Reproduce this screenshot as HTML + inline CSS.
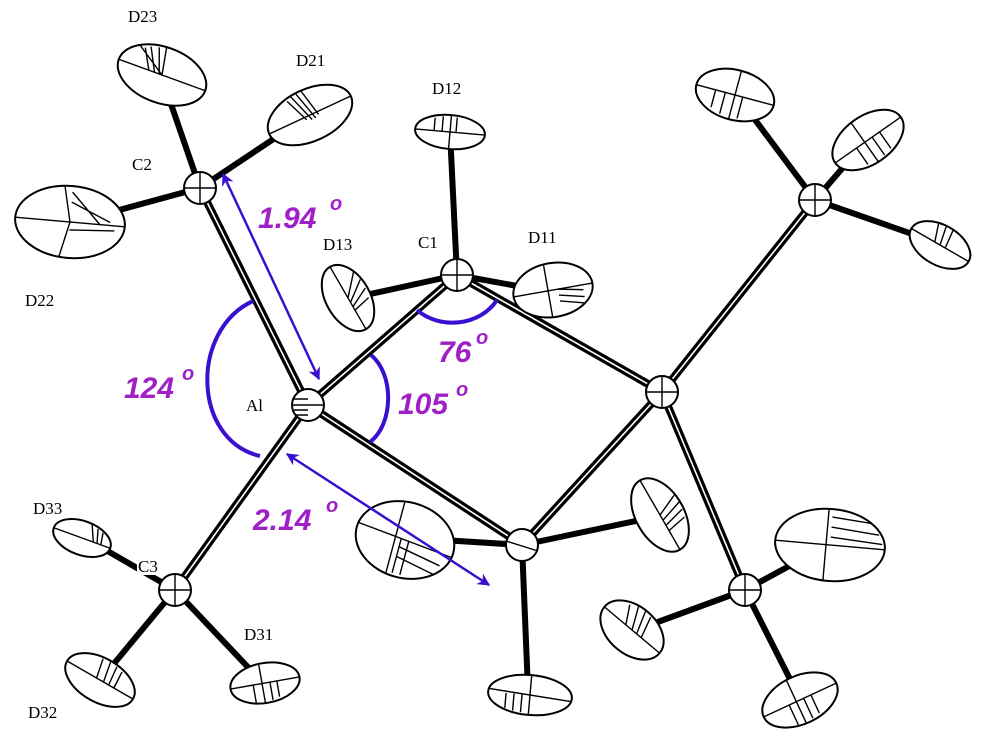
<!DOCTYPE html>
<html><head><style>
body{margin:0;background:#fff}
svg{display:block}
.b{stroke:#000;stroke-width:8;stroke-linecap:butt}
.bi{stroke:#fff;stroke-width:1.6}
.e{fill:#fff;stroke:#000;stroke-width:2}
.h{stroke:#000;stroke-width:1.4;fill:none}
.lab{font-family:"Liberation Serif",serif;font-size:17px;fill:#000}
.p{font-family:"Liberation Sans",sans-serif;font-weight:bold;font-style:italic;font-size:30px;fill:#a020c8}
.bl{stroke:#3a10d0;fill:none}
</style></head><body>
<svg width="997" height="748" viewBox="0 0 997 748">
<defs>
<marker id="ah" viewBox="0 0 10 10" refX="9" refY="5" markerWidth="5" markerHeight="5" orient="auto-start-reverse"><path d="M0,0 L10,5 L0,10 L3,5z" fill="#3a10d0"/></marker>
</defs>

<g>
<line class="b" x1="308" y1="405" x2="200" y2="188"/>
<line class="b" x1="308" y1="405" x2="457" y2="275"/>
<line class="b" x1="308" y1="405" x2="175" y2="590"/>
<line class="b" x1="308" y1="405" x2="522" y2="545"/>
<line class="b" x1="457" y1="275" x2="662" y2="392"/>
<line class="b" x1="522" y1="545" x2="662" y2="392"/>
<line class="b" x1="662" y1="392" x2="815" y2="200"/>
<line class="b" x1="662" y1="392" x2="745" y2="590"/>
<line class="b" x1="200" y1="188" x2="162" y2="78" style="stroke-width:6"/>
<line class="b" x1="200" y1="188" x2="305" y2="118" style="stroke-width:6"/>
<line class="b" x1="200" y1="188" x2="75" y2="222" style="stroke-width:6"/>
<line class="b" x1="457" y1="275" x2="450" y2="132" style="stroke-width:6"/>
<line class="b" x1="457" y1="275" x2="352" y2="298" style="stroke-width:6"/>
<line class="b" x1="457" y1="275" x2="550" y2="292" style="stroke-width:6"/>
<line class="b" x1="175" y1="590" x2="85" y2="538" style="stroke-width:6"/>
<line class="b" x1="175" y1="590" x2="102" y2="678" style="stroke-width:6"/>
<line class="b" x1="175" y1="590" x2="262" y2="682" style="stroke-width:6"/>
<line class="b" x1="522" y1="545" x2="410" y2="538" style="stroke-width:6"/>
<line class="b" x1="522" y1="545" x2="650" y2="518" style="stroke-width:6"/>
<line class="b" x1="522" y1="545" x2="528" y2="690" style="stroke-width:6"/>
<line class="b" x1="815" y1="200" x2="738" y2="97" style="stroke-width:6"/>
<line class="b" x1="815" y1="200" x2="865" y2="142" style="stroke-width:6"/>
<line class="b" x1="815" y1="200" x2="938" y2="243" style="stroke-width:6"/>
<line class="b" x1="745" y1="590" x2="828" y2="545" style="stroke-width:6"/>
<line class="b" x1="745" y1="590" x2="636" y2="630" style="stroke-width:6"/>
<line class="b" x1="745" y1="590" x2="798" y2="695" style="stroke-width:6"/>
<line class="bi" x1="308" y1="405" x2="200" y2="188"/>
<line class="bi" x1="308" y1="405" x2="457" y2="275"/>
<line class="bi" x1="308" y1="405" x2="175" y2="590"/>
<line class="bi" x1="308" y1="405" x2="522" y2="545"/>
<line class="bi" x1="457" y1="275" x2="662" y2="392"/>
<line class="bi" x1="522" y1="545" x2="662" y2="392"/>
<line class="bi" x1="662" y1="392" x2="815" y2="200"/>
<line class="bi" x1="662" y1="392" x2="745" y2="590"/>
</g>

<g>
<g transform="translate(162,75) rotate(20)"><ellipse class="e" rx="46" ry="28"/><line class="h" x1="-46" y1="0" x2="46" y2="0"/><path class="h" d="M-5,-27 L0,0 L-30,-20 M-12,-25 L-3,0 M-20,-23 L-8,0 M-25,-20 L-14,0"/></g>
<g transform="translate(310,115) rotate(-25)"><ellipse class="e" rx="45" ry="26"/><line class="h" x1="-45" y1="0" x2="45" y2="0"/><path class="h" d="M-10,-25 L0,5 M-4,-25 L4,5 M2,-25 L8,3 M-15,-22 L-5,3"/></g>
<g transform="translate(70,222) rotate(5)"><ellipse class="e" rx="55" ry="36"/><line class="h" x1="-55" y1="0" x2="55" y2="0"/><path class="h" d="M-8,-35 L0,0 L-8,35 M0,-30 L30,0 M0,-20 L40,-3 M0,8 L45,5"/></g>
<g transform="translate(450,132) rotate(5)"><ellipse class="e" rx="35" ry="17"/><line class="h" x1="-35" y1="0" x2="35" y2="0"/><path class="h" d="M0,-17 L0,17 M-8,-15 L-8,0 M-16,-13 L-16,0 M6,-15 L6,0"/></g>
<g transform="translate(348,298) rotate(60)"><ellipse class="e" rx="36" ry="22"/><line class="h" x1="-36" y1="0" x2="36" y2="0"/><path class="h" d="M-20,-18 L0,0 M-10,-20 L5,0 M0,-20 L10,0 M10,-18 L14,0"/></g>
<g transform="translate(553,290) rotate(-10)"><ellipse class="e" rx="40" ry="27"/><line class="h" x1="-40" y1="0" x2="40" y2="0"/><path class="h" d="M-5,-26 L-5,26 M5,0 L30,5 M5,6 L30,12 M5,12 L28,18"/></g>
<g transform="translate(82,538) rotate(20)"><ellipse class="e" rx="30" ry="17"/><line class="h" x1="-30" y1="0" x2="30" y2="0"/><path class="h" d="M5,-16 L12,0 M12,-14 L16,0 M18,-12 L20,0"/></g>
<g transform="translate(100,680) rotate(30)"><ellipse class="e" rx="38" ry="22"/><line class="h" x1="-38" y1="0" x2="38" y2="0"/><path class="h" d="M0,-22 L4,0 M8,-20 L10,0 M15,-18 L16,0 M-8,-20 L-4,0"/></g>
<g transform="translate(265,683) rotate(-10)"><ellipse class="e" rx="35" ry="20"/><line class="h" x1="-35" y1="0" x2="35" y2="0"/><path class="h" d="M-3,-20 L-3,20 M5,0 L5,18 M12,0 L12,16 M-12,0 L-12,18"/></g>
<g transform="translate(735,95) rotate(15)"><ellipse class="e" rx="40" ry="25"/><line class="h" x1="-40" y1="0" x2="40" y2="0"/><path class="h" d="M0,-25 L0,25 M-10,0 L-10,22 M-20,0 L-20,18 M8,0 L8,22"/></g>
<g transform="translate(868,140) rotate(-35)"><ellipse class="e" rx="40" ry="24"/><line class="h" x1="-40" y1="0" x2="40" y2="0"/><path class="h" d="M-4,-24 L-4,24 M5,0 L5,22 M14,0 L14,20 M-14,0 L-14,20"/></g>
<g transform="translate(940,245) rotate(30)"><ellipse class="e" rx="33" ry="20"/><line class="h" x1="-33" y1="0" x2="33" y2="0"/><path class="h" d="M-4,-20 L0,0 M4,-19 L6,0 M-12,-18 L-6,0"/></g>
<g transform="translate(405,540) rotate(15)"><ellipse class="e" rx="50" ry="38"/><line class="h" x1="-50" y1="-5" x2="50" y2="5"/><path class="h" d="M-10,-36 L-10,36 M-4,0 L-4,35 M4,0 L4,35 M-4,8 L40,16 M-4,18 L36,26"/></g>
<g transform="translate(660,515) rotate(60)"><ellipse class="e" rx="40" ry="24"/><line class="h" x1="-40" y1="0" x2="40" y2="0"/><path class="h" d="M-10,-22 L0,0 M-2,-24 L6,0 M6,-22 L12,0 M14,-20 L18,0"/></g>
<g transform="translate(530,695) rotate(5)"><ellipse class="e" rx="42" ry="20"/><line class="h" x1="-42" y1="-3" x2="42" y2="3"/><path class="h" d="M0,-20 L0,20 M-8,0 L-8,18 M-16,0 L-16,17 M-24,0 L-24,15"/></g>
<g transform="translate(830,545) rotate(5)"><ellipse class="e" rx="55" ry="36"/><line class="h" x1="-55" y1="0" x2="55" y2="0"/><path class="h" d="M-4,-35 L-4,35 M0,-28 L40,-25 M0,-18 L48,-14 M0,-8 L52,-5"/></g>
<g transform="translate(632,630) rotate(40)"><ellipse class="e" rx="36" ry="24"/><line class="h" x1="-36" y1="0" x2="36" y2="0"/><path class="h" d="M-10,-22 L0,0 M-2,-24 L6,0 M6,-22 L12,0 M-18,-18 L-8,0"/></g>
<g transform="translate(800,700) rotate(-25)"><ellipse class="e" rx="40" ry="24"/><line class="h" x1="-40" y1="0" x2="40" y2="0"/><path class="h" d="M-4,-24 L-4,24 M4,0 L4,22 M12,0 L12,20 M-12,0 L-12,22"/></g>
</g>

<g>
<g transform="translate(308,405)"><circle class="e" r="16"/><path class="h" d="M-16,0 L16,0 M-14,-6 L0,-6 M-14,5 L0,5 M-12,10 L0,10"/></g>
<g transform="translate(200,188)"><circle class="e" r="16"/><path class="h" d="M-16,0 L16,0 M0,-16 L0,16"/></g>
<g transform="translate(457,275)"><circle class="e" r="16"/><path class="h" d="M-16,0 L16,0 M0,-16 L0,16"/></g>
<g transform="translate(175,590)"><circle class="e" r="16"/><path class="h" d="M-16,0 L16,0 M0,-16 L0,16"/></g>
<g transform="translate(662,392)"><circle class="e" r="16"/><path class="h" d="M-16,0 L16,0 M0,-16 L0,16"/></g>
<g transform="translate(522,545)"><circle class="e" r="16"/><path class="h" d="M-16,-4 L16,6"/></g>
<g transform="translate(815,200)"><circle class="e" r="16"/><path class="h" d="M-16,0 L16,0 M0,-16 L0,16"/></g>
<g transform="translate(745,590)"><circle class="e" r="16"/><path class="h" d="M-16,0 L16,0 M0,-16 L0,16"/></g>
</g>

<text class="lab" x="128" y="22">D23</text>
<text class="lab" x="296" y="66">D21</text>
<text class="lab" x="432" y="94">D12</text>
<text class="lab" x="132" y="170">C2</text>
<text class="lab" x="323" y="250">D13</text>
<text class="lab" x="418" y="248">C1</text>
<text class="lab" x="528" y="243">D11</text>
<text class="lab" x="25" y="306">D22</text>
<text class="lab" x="246" y="411">Al</text>
<text class="lab" x="33" y="514">D33</text>
<rect x="137" y="557" width="24" height="18" fill="#fff"/>
<text class="lab" x="138" y="572">C3</text>
<text class="lab" x="244" y="640">D31</text>
<text class="lab" x="28" y="718">D32</text>

<line class="bl" stroke-width="2.5" x1="223" y1="174" x2="319" y2="379" marker-start="url(#ah)" marker-end="url(#ah)"/>
<line class="bl" stroke-width="2.5" x1="287" y1="454" x2="489" y2="585" marker-start="url(#ah)" marker-end="url(#ah)"/>
<path class="bl" stroke-width="4" d="M253,301 C190,330 192,440 260,456"/>
<path class="bl" stroke-width="4" d="M371,355 C395,375 393,425 370,442"/>
<path class="bl" stroke-width="4" d="M417,310 C440,330 480,326 497,300"/>
<text class="p" x="258" y="228">1.94</text><text class="p" x="330" y="210" style="font-size:20px">o</text>
<text class="p" x="124" y="398">124</text><text class="p" x="182" y="380" style="font-size:20px">o</text>
<text class="p" x="398" y="414">105</text><text class="p" x="456" y="396" style="font-size:20px">o</text>
<text class="p" x="438" y="362">76</text><text class="p" x="476" y="344" style="font-size:20px">o</text>
<text class="p" x="253" y="530">2.14</text><text class="p" x="326" y="512" style="font-size:20px">o</text>
</svg>
</body></html>
